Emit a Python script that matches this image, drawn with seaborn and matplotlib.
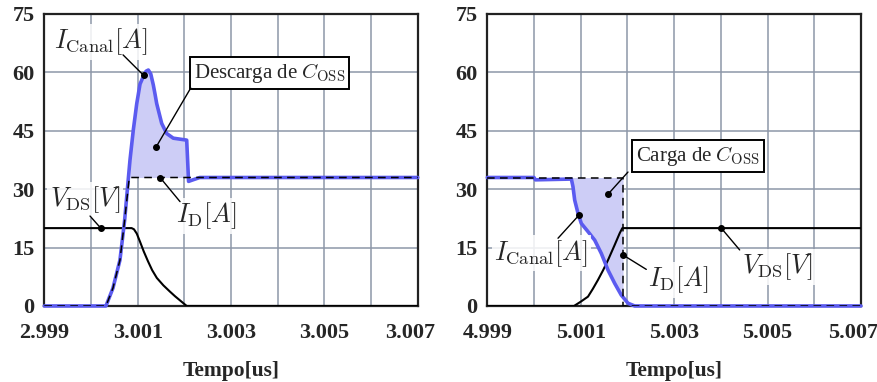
import numpy as np
import pandas as pd
import matplotlib
matplotlib.use("Agg")
import matplotlib.pyplot as plt
import matplotlib.transforms as mtransforms
import seaborn as sns

sns.set_theme(style="whitegrid")
plt.rcParams["font.family"] = ["Liberation Serif", "DejaVu Serif"]
plt.rcParams["mathtext.fontset"] = "cm"

# ---------------- turn-on transition (left panel) ----------------
t_on_canal = [2.999, 3.00032, 3.00047, 3.00062, 3.00072, 3.000835, 3.000906, 3.00098,
              3.00105, 3.00113, 3.00118, 3.001228, 3.00128, 3.001334, 3.00137, 3.001407,
              3.001514, 3.001621, 3.001762, 3.00205, 3.00209, 3.00216, 3.00233, 3.007]
i_on_canal = [0, 0, 4.6, 11.8, 22, 37.5, 45.2, 52,
              57.0, 59.2, 60.3, 60.6, 59.6, 56.8, 54.5, 52,
              46.9, 44.3, 43.1, 42.6, 32.0, 32.3, 33.0, 33.0]

t_on_id = [2.999, 3.00032, 3.00047, 3.00062, 3.00072, 3.00082, 3.007]
i_on_id = [0, 0, 4.6, 11.8, 22, 33, 33]

t_on_vds = [2.999, 3.00087, 3.00092, 3.00098, 3.00105, 3.00113, 3.00122, 3.00131,
            3.00141, 3.00155, 3.00169, 3.00180, 3.00190, 3.00198, 3.00205, 3.007]
v_on_vds = [20, 20, 19.7, 18.6, 16.5, 14.0, 11.5, 9.2,
            7.2, 5.3, 3.7, 2.5, 1.5, 0.7, 0, 0]

# ---------------- turn-off transition (right panel) ----------------
t_off_canal = [4.999, 5.0000, 5.00003, 5.0008, 5.000835, 5.000871, 5.000942, 5.001013,
               5.001156, 5.0013, 5.001441, 5.001585, 5.001728, 5.001869, 5.002013,
               5.002156, 5.007]
i_off_canal = [33, 33, 32.4, 32.6, 30.6, 27.2, 23.8, 21.2,
               19.1, 16.9, 13.5, 9.2, 5.8, 2.8, 0.7,
               0, 0]

t_off_id = [4.999, 5.001906, 5.001906, 5.007]
i_off_id = [33, 33, 0, 0]

t_off_vds = [4.999, 5.000857, 5.00100, 5.001156, 5.00126, 5.00137, 5.00148,
             5.001585, 5.001728, 5.001835, 5.001891, 5.007]
v_off_vds = [0, 0, 1.1, 2.4, 4.4, 6.7, 9.2,
             11.8, 15.7, 18.7, 20, 20]

y_ticks = [0, 15, 30, 45, 60, 75]
x_ticks_on = [2.999, 3.001, 3.003, 3.005, 3.007]
x_ticks_off = [4.999, 5.001, 5.003, 5.005, 5.007]

BLUE = "#5b5bf0"
FILL = "#cdcdf6"
GRID = "#8d97a8"

fig = plt.figure(figsize=(8.78, 3.82), dpi=100)
ax1 = fig.add_axes([0.0505, 0.199, 0.4253, 0.7644])
ax2 = fig.add_axes([0.555, 0.199, 0.4256, 0.7644])


def curve(ax, t, y, **kw):
    df = pd.DataFrame({"t": t, "y": y})
    sns.lineplot(data=df, x="t", y="y", ax=ax, estimator=None, sort=False,
                 legend=False, **kw)


def style_axes(ax, x0, xticks):
    ax.set_xlim(x0, x0 + 0.008)
    ax.set_ylim(0, 75)
    minor = np.round(np.arange(x0, x0 + 0.0081, 0.001), 4)
    ax.set_xticks(minor)
    ax.set_xticklabels([f"{v:.3f}" if np.any(np.isclose(v, xticks)) else "" for v in minor])
    ax.set_yticks(y_ticks)
    ax.set_yticklabels([str(v) for v in y_ticks])
    ax.grid(True, color=GRID, lw=1.1)
    ax.set_axisbelow(True)
    ax.tick_params(length=0, labelsize=16)
    ax.tick_params(axis="x", pad=12)
    ax.tick_params(axis="y", pad=7)
    for lab in ax.get_xticklabels() + ax.get_yticklabels():
        lab.set_fontweight("bold")
    # keep the last time label inside the panel edge
    last = ax.get_xticklabels()[-1]
    last.set_transform(last.get_transform() +
                       mtransforms.ScaledTranslation(-8 / 100, 0, fig.dpi_scale_trans))
    for sp in ax.spines.values():
        sp.set_color("#222222")
        sp.set_linewidth(1.6)
    ax.set_xlabel("Tempo[us]", fontsize=15.5, fontweight="bold", labelpad=13)
    ax.set_ylabel("")


def callout(ax, label, text_xy, start_xy, dot_xy, fs=19, boxed=False):
    if boxed:
        bbox = dict(boxstyle="square,pad=0.2", fc="white", ec="black", lw=1.4)
    else:
        bbox = dict(boxstyle="square,pad=0.1", fc="white", ec="none", alpha=0.85)
    ax.text(*text_xy, label, ha="center", va="center", fontsize=fs, bbox=bbox, zorder=6)
    ax.annotate("", xy=dot_xy, xytext=start_xy,
                arrowprops=dict(arrowstyle="-", color="black", lw=1.0,
                                shrinkA=0, shrinkB=0), zorder=6)
    ax.plot(*dot_xy, "o", color="black", ms=4, zorder=7)


# ---------- left panel: turn-on ----------
x_fill = np.array(t_on_canal)
mask = (x_fill >= 3.00082) & (x_fill <= 3.00209)
ax1.fill_between(x_fill, np.interp(x_fill, t_on_id, i_on_id), i_on_canal,
                 where=mask, color=FILL, lw=0, zorder=1)
curve(ax1, t_on_vds, v_on_vds, color="black", lw=1.5, zorder=3)
curve(ax1, t_on_canal, i_on_canal, color=BLUE, lw=2.6, zorder=4)
ax1.lines[-1].set_clip_on(False)
curve(ax1, t_on_id, i_on_id, color="black", lw=1.1, zorder=5)
ax1.lines[-1].set_dashes([5, 3.5])
style_axes(ax1, 2.999, x_ticks_on)

callout(ax1, r"$I_{\rm Canal}[A]$", (3.00021, 67.9), (3.000686, 64.5),
        (3.00113, float(np.interp(3.00113, t_on_canal, i_on_canal))))
callout(ax1, r"Descarga de $C_{\rm OSS}$", (3.003825, 59.8), (3.002137, 56.0),
        (3.001393, 40.8), fs=15, boxed=True)
callout(ax1, r"$V_{\rm DS}[V]$", (2.999872, 27.2), (2.999979, 23.1), (3.000208, 20))
callout(ax1, r"$I_{\rm D}[A]$", (3.00248, 23.1), (3.001907, 26.8), (3.001479, 33))

# ---------- right panel: turn-off ----------
x_fill2 = np.array(t_off_canal)
mask2 = (x_fill2 >= 5.0008) & (x_fill2 <= 5.001906)
ax2.fill_between(x_fill2, 33, i_off_canal, where=mask2, color=FILL, lw=0, zorder=1)
x_tail = np.array([5.001869, 5.001906])
ax2.fill_between(x_tail, 33, np.interp(x_tail, t_off_canal, i_off_canal),
                 color=FILL, lw=0, zorder=1)
curve(ax2, t_off_vds, v_off_vds, color="black", lw=1.5, zorder=3)
curve(ax2, t_off_canal, i_off_canal, color=BLUE, lw=2.6, zorder=4)
ax2.lines[-1].set_clip_on(False)
curve(ax2, t_off_id, i_off_id, color="black", lw=1.1, zorder=5)
ax2.lines[-1].set_dashes([5, 3.5])
style_axes(ax2, 4.999, x_ticks_off)

callout(ax2, r"Carga de $C_{\rm OSS}$", (5.003511, 38.5), (5.002012, 34.4),
        (5.001584, 28.7), fs=15, boxed=True)
callout(ax2, r"$I_{\rm Canal}[A]$", (5.000156, 13.5), (5.000514, 17.4),
        (5.000957, float(np.interp(5.000957, t_off_canal, i_off_canal))))
callout(ax2, r"$I_{\rm D}[A]$", (5.003082, 6.7), (5.002404, 9.4), (5.001906, 13.1))
callout(ax2, r"$V_{\rm DS}[V]$", (5.005205, 10.1), (5.004403, 14.4), (5.004009, 20))

fig.savefig("out.png", dpi=100)
